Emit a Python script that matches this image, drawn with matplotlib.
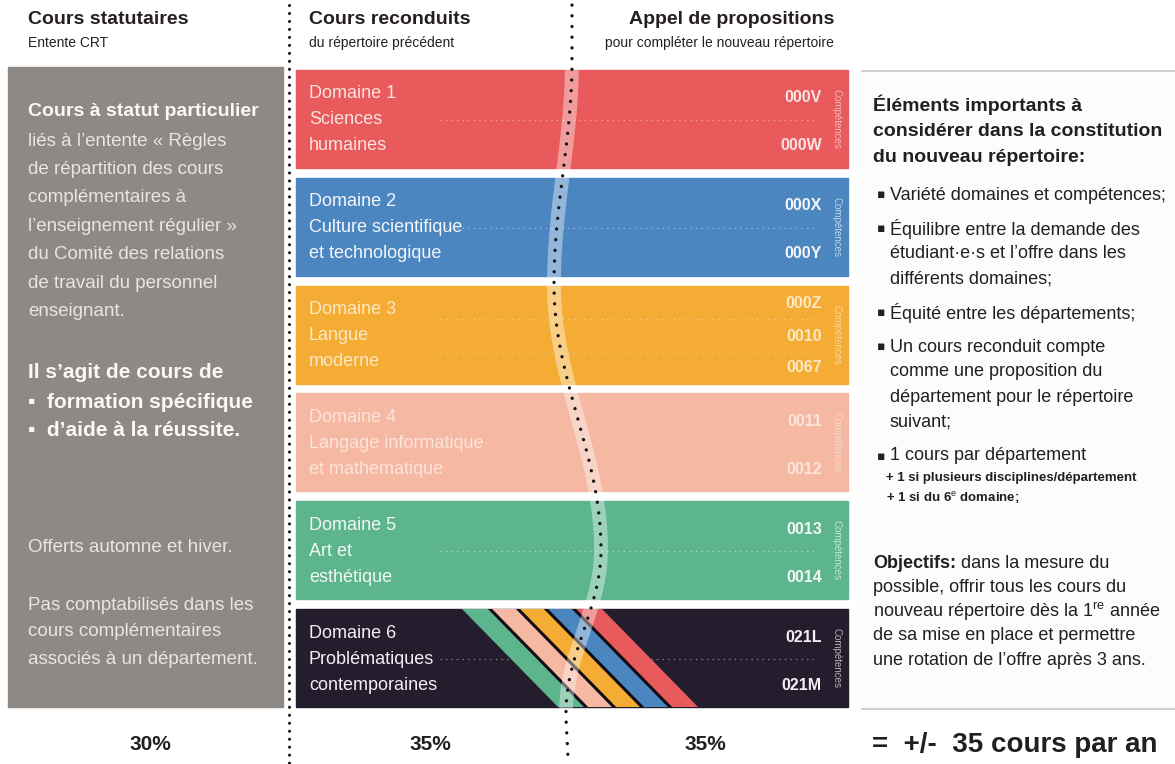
import numpy as np
import matplotlib.pyplot as plt
from matplotlib.patches import Rectangle, Polygon

plt.rcParams['mathtext.fontset'] = 'custom'
plt.rcParams['mathtext.rm'] = 'Liberation Sans'
plt.rcParams['mathtext.bf'] = 'Liberation Sans:bold'

NARROW = ['Liberation Sans Narrow', 'Liberation Sans', 'DejaVu Sans']
SANS = ['Liberation Sans', 'DejaVu Sans']

# column headers and shares
col_titles = ["Cours statutaires", "Cours reconduits", "Appel de propositions"]
col_subtitles = ["Entente CRT", "du répertoire précédent", "pour compléter le nouveau répertoire"]
col_shares = [30, 35, 35]
total_label = "=  +/-  35 cours par an"

# domains
domain_names = [["Domaine 1", "Sciences", "humaines"],
                ["Domaine 2", "Culture scientifique", "et technologique"],
                ["Domaine 3", "Langue", "moderne"],
                ["Domaine 4", "Langage informatique", "et mathematique"],
                ["Domaine 5", "Art et", "esthétique"],
                ["Domaine 6", "Problématiques", "contemporaines"]]
domain_codes = [["000V", "000W"], ["000X", "000Y"], ["000Z", "0010", "0067"],
                ["0011", "0012"], ["0013", "0014"], ["021L", "021M"]]
domain_colors = ["#e85a5b", "#4b86c0", "#f4ac34", "#f5b8a2", "#5db58d", "#241d2e"]
domain_text_colors = ["#fae3e0", "#f4f6fa", "#fde8c4", "#fde4da", "#f2f8f4", "#f3f0f3"]

# left panel
left_bold_top = "Cours à statut particulier"
left_lines = ["liés à l’entente « Règles", "de répartition des cours", "complémentaires à",
              "l’enseignement régulier »", "du Comité des relations", "de travail du personnel",
              "enseignant."]
left_bold_lines = ["Il s’agit de cours de", "▪  formation spécifique", "▪  d’aide à la réussite."]
left_note1 = "Offerts automne et hiver."
left_note2 = ["Pas comptabilisés dans les", "cours complémentaires", "associés à un département."]

# right panel
right_title = ["Éléments importants à", "considérer dans la constitution", "du nouveau répertoire:"]
right_bullets = [["Variété domaines et compétences;"],
                 ["Équilibre entre la demande des", "étudiant·e·s et l’offre dans les", "différents domaines;"],
                 ["Équité entre les départements;"],
                 ["Un cours reconduit compte", "comme une proposition du",
                  "département pour le répertoire", "suivant;"],
                 ["1 cours par département"]]
right_small = ["+ 1 si plusieurs disciplines/département", "+ 1 si du 6$^{\\mathrm{e}}$ domaine;"]
goal_head = "Objectifs:"
right_goal = [" dans la mesure du", "possible, offrir tous les cours du",
              "nouveau répertoire dès la 1$^{\\mathrm{re}}$ année", "de sa mise en place et permettre",
              "une rotation de l’offre après 3 ans."]

fig = plt.figure(figsize=(11.75, 7.64), dpi=100)
ax = fig.add_axes([0, 0, 1, 1])
ax.set_xlim(0, 1175)
ax.set_ylim(764, 0)
ax.axis('off')

# headers
ax.text(28, 20, col_titles[0], fontsize=14, fontweight='bold', family=NARROW, color='#262020', va='center')
ax.text(28, 43, col_subtitles[0], fontsize=10, family=NARROW, color='#262020', va='center')
ax.text(309, 20, col_titles[1], fontsize=14, fontweight='bold', family=NARROW, color='#262020', va='center')
ax.text(309, 43, col_subtitles[1], fontsize=10, family=NARROW, color='#262020', va='center')
ax.text(834, 20, col_titles[2], fontsize=14, fontweight='bold', family=NARROW, color='#262020', va='center', ha='right')
ax.text(834, 43, col_subtitles[2], fontsize=10, family=NARROW, color='#262020', va='center', ha='right')

# left grey panel
ax.add_patch(Rectangle((8, 67), 275, 640, color='#8e8985', zorder=1))
ax.text(28, 112, left_bold_top, fontsize=14, fontweight='bold', family=SANS, color='#fbf8f5', va='center')
for i, s in enumerate(left_lines):
    ax.text(28, 141 + 28.4 * i, s, fontsize=13.5, family=SANS, color='#e9e5e1', va='center')
for i, s in enumerate(left_bold_lines):
    ax.text(28, 373 + 29 * i, s, fontsize=15, fontweight='bold', family=SANS, color='#fbf8f5', va='center')
ax.text(28, 548, left_note1, fontsize=13.5, family=SANS, color='#e9e5e1', va='center')
for i, s in enumerate(left_note2):
    ax.text(28, 605 + 27 * i, s, fontsize=13.5, family=SANS, color='#e9e5e1', va='center')

# domain bars
bar_x0, bar_x1 = 296, 848
bar_tops = 70 + 107.8 * np.arange(len(domain_names))
bar_h = 98
for k, (names, codes) in enumerate(zip(domain_names, domain_codes)):
    top = bar_tops[k]
    ax.add_patch(Rectangle((bar_x0, top), bar_x1 - bar_x0, bar_h, color=domain_colors[k], zorder=1))
    tc = domain_text_colors[k]
    for j, s in enumerate(names):
        ax.text(309, top + 24 + 26 * j, s, fontsize=13, family=SANS, color=tc, va='center', zorder=5)
    if len(codes) == 2:
        cy = [top + 28, top + 76]
        ly = [top + 50]
    else:
        cy = [top + 18, top + 51, top + 82]
        ly = [top + 33, top + 67]
    for y, c in zip(cy, codes):
        ax.text(822, y, c, fontsize=11.5, fontweight='bold', family=NARROW, color=tc, va='center', ha='right', zorder=5)
    for y in ly:
        ax.plot([440, 815], [y, y], color=tc, lw=0.8, ls=(0, (1, 4)), alpha=0.6, zorder=2)
    ax.text(836, top + bar_h / 2, "Compétences", fontsize=7, family=SANS, color=tc, alpha=0.7,
            rotation=270, va='center', ha='center', zorder=5)

# diagonal stripes in domain 6
top6 = bar_tops[-1]
stripe_colors = domain_colors[:5][::-1]
clip = Rectangle((bar_x0, top6), bar_x1 - bar_x0, bar_h, transform=ax.transData)
sx0, sw, shift = 462, 28, 96
for i, c in enumerate(stripe_colors):
    x0 = sx0 + i * sw
    poly = Polygon([(x0, top6), (x0 + sw, top6), (x0 + sw + shift, top6 + bar_h), (x0 + shift, top6 + bar_h)],
                   closed=True, facecolor=c, edgecolor='none', zorder=3)
    poly.set_clip_path(clip)
    ax.add_patch(poly)
    if i > 0:
        ln, = ax.plot([x0, x0 + shift], [top6, top6 + bar_h], color='#120d14', lw=2.2, zorder=3.5)
        ln.set_clip_path(clip)

# right panel
ax.add_patch(Rectangle((856, 70), 319, 640, color='#fcfcfc', zorder=0))
ax.plot([862, 1175], [71, 71], color='#c8c8c8', lw=1.2)
ax.plot([862, 1175], [709, 709], color='#c8c8c8', lw=1.2)
for i, s in enumerate(right_title):
    ax.text(873, 105 + 26.5 * i, s, fontsize=14, fontweight='bold', family=SANS, color='#231f20', va='center')
y = 195
for b in right_bullets:
    ax.text(877, y, "▪", fontsize=9, family=['DejaVu Sans'], color='#231f20', va='center')
    for s in b:
        ax.text(890, y, s, fontsize=13, family=SANS, color='#231f20', va='center')
        y += 25
    y += 9
y -= 12
for s in right_small:
    ax.text(886, y, s, fontsize=9.5, fontweight='bold', family=NARROW, color='#231f20', va='center')
    y += 20

y = 563
head = ax.text(873, y, goal_head, fontsize=13, fontweight='bold', family=SANS, color='#231f20', va='center')
renderer = fig.canvas.get_renderer()
bb = head.get_window_extent(renderer=renderer)
head_end = ax.transData.inverted().transform((bb.x1, bb.y0))[0]
for i, s in enumerate(right_goal):
    ax.text(head_end if i == 0 else 873, y, s, fontsize=13, family=SANS, color='#231f20', va='center')
    y += 24.3

# bottom shares
share_x = [150, 430, 705]
for x, p in zip(share_x, col_shares):
    ax.text(x, 745, f"{p}%", fontsize=15, fontweight='bold', family=NARROW, color='#231f20', va='center', ha='center')
ax.text(872, 745, total_label, fontsize=20, fontweight='bold', family=NARROW, color='#231f20', va='center')

# straight dotted separator
ax.plot([289, 289], [5, 764], color='#111111', lw=2.2, ls=(0, (0.01, 2.6)), dash_capstyle='round', zorder=6)

# wavy dotted separator with light band
knots_y = [0, 60, 285, 550, 712, 764]
knots_x = [572, 572, 554, 601, 566, 568]
yy, xx = [], []
for (ya, xa), (yb, xb) in zip(zip(knots_y[:-1], knots_x[:-1]), zip(knots_y[1:], knots_x[1:])):
    t = np.linspace(0, 1, 60)
    yy.append(ya + (yb - ya) * t)
    xx.append(xa + (xb - xa) * (1 - np.cos(np.pi * t)) / 2)
yy = np.concatenate(yy)
xx = np.concatenate(xx)
ax.plot(xx, yy, color='white', lw=10, alpha=0.4, solid_capstyle='butt', zorder=4)
ax.plot(xx[yy > 5], yy[yy > 5], color='#111111', lw=2.4, ls=(0, (0.01, 3.2)), dash_capstyle='round', zorder=6)

fig.savefig('out.png', dpi=100, facecolor='white')
